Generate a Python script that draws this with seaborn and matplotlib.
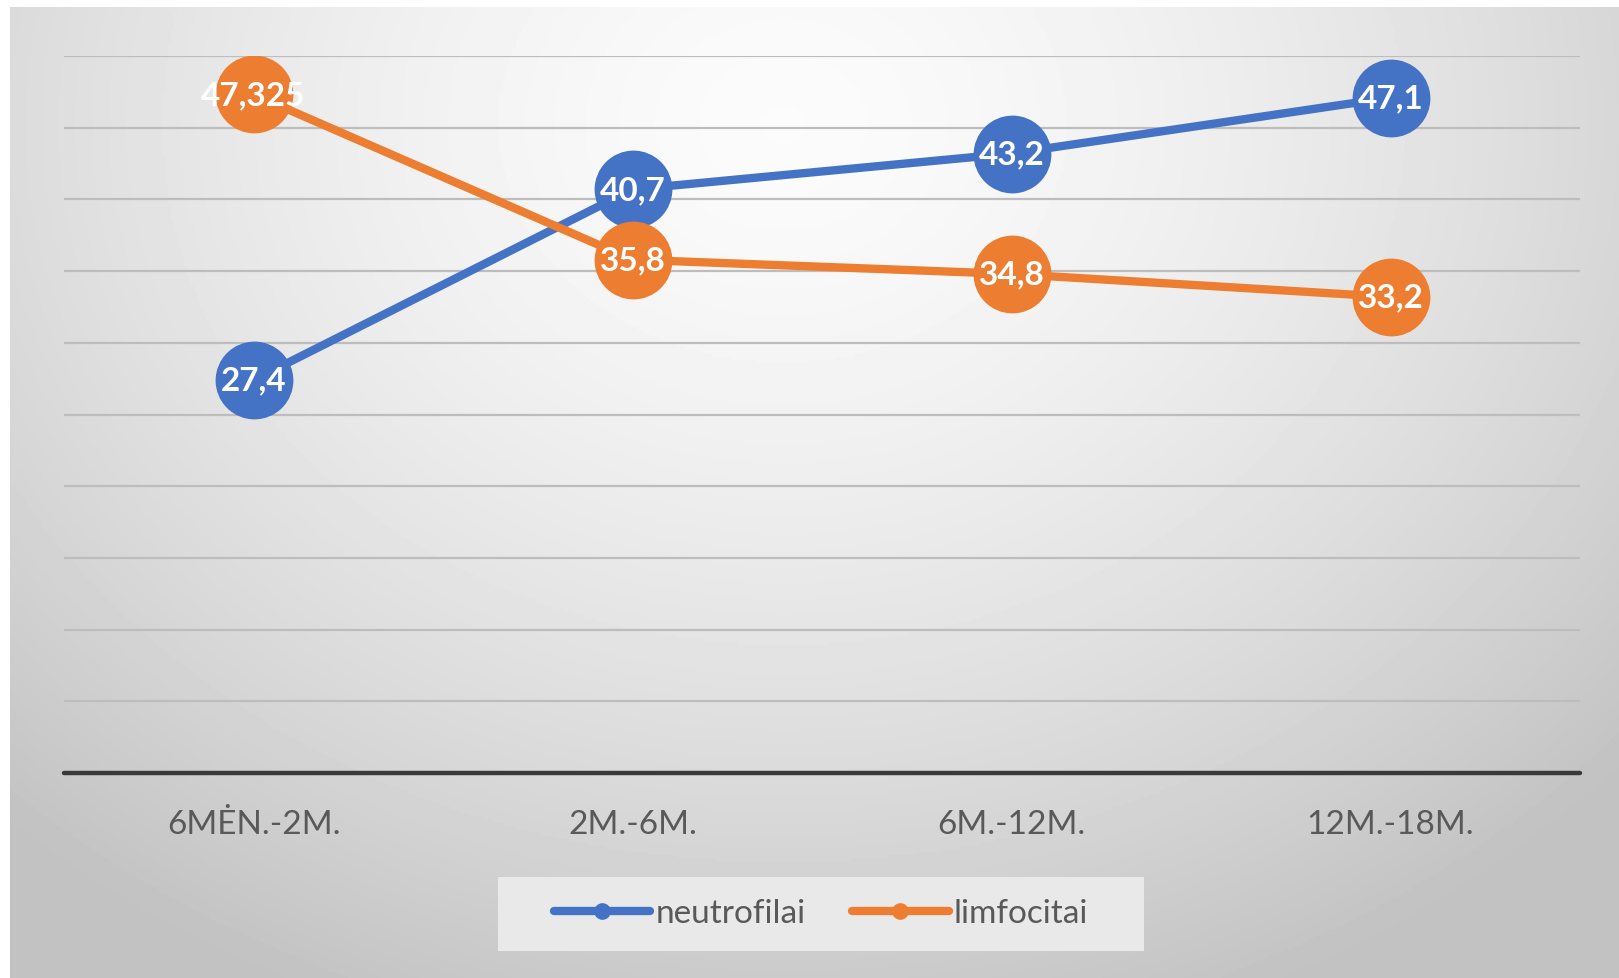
import numpy as np
import pandas as pd
import seaborn as sns
import matplotlib.pyplot as plt
from matplotlib.lines import Line2D
from matplotlib.patches import Rectangle

# Chart values
groups = ["6MĖN.-2M.", "2M.-6M.", "6M.-12M.", "12M.-18M."]
neutrofilai = [27.4, 40.7, 43.2, 47.1]
limfocitai = [47.325, 35.8, 34.8, 33.2]
series_names = ["neutrofilai", "limfocitai"]
colors = {"neutrofilai": "#4472C4", "limfocitai": "#ED7D31"}

df = pd.DataFrame({
    "group": groups * 2,
    "value": neutrofilai + limfocitai,
    "series": ["neutrofilai"] * 4 + ["limfocitai"] * 4,
})

sns.set_theme(style="white")
plt.rcParams["font.family"] = ["Lato", "DejaVu Sans"]

W, H = 1619, 979
fig = plt.figure(figsize=(W / 100, H / 100), dpi=100, facecolor="white")

# radial gray background like the office chart style
bg = fig.add_axes([10 / W, 0, 1 - 10 / W, 1 - 8 / H], zorder=0)
yy, xx = np.mgrid[0:1:300j, 0:1:500j]
r = np.sqrt(((xx - 0.48) / 0.72) ** 2 + ((yy - 0.12) / 1.0) ** 2)
shade = np.clip(0.985 - 0.23 * r ** 1.5, 0.76, 1.0)
bg.imshow(shade, cmap="gray", vmin=0, vmax=1, aspect="auto", extent=[0, 1, 1, 0])
bg.axis("off")

ax = fig.add_axes([64 / W, 1 - 774 / H, (1580 - 64) / W, (774 - 57) / H], zorder=1)
ax.patch.set_alpha(0)

for y in range(5, 51, 5):
    ax.axhline(y, color="#bdbdbd", linewidth=1.6, zorder=0)
ax.axhline(0, color="#3a3a3a", linewidth=3.2, zorder=1, clip_on=False)

sns.lineplot(data=df, x="group", y="value", hue="series", palette=colors,
             marker="o", markersize=56, markeredgewidth=0, linewidth=6,
             sort=False, legend=False, ax=ax, zorder=3)

for name, vals in zip(series_names, [neutrofilai, limfocitai]):
    for i, v in enumerate(vals):
        ax.text(i, v, f"{v:g}".replace(".", ","), ha="center", va="center",
                color="white", fontsize=24, fontweight="bold", zorder=5)

ax.set_xlim(-0.5, 3.5)
ax.set_ylim(0, 50)
ax.set_yticks([])
ax.set_xlabel("")
ax.set_ylabel("")
ax.tick_params(axis="x", length=0, pad=26, labelsize=24, labelcolor="#595959")
for s in ax.spines.values():
    s.set_visible(False)

# legend box
fig.patches.append(Rectangle((498 / W, 1 - 952 / H), 646 / W, 74 / H,
                             transform=fig.transFigure, facecolor="#e9e9e9",
                             edgecolor="none", zorder=2))
handles = [Line2D([0], [0], color=colors[n], linewidth=6, marker="o",
                  markersize=12, markeredgewidth=0) for n in series_names]
leg = fig.legend(handles, series_names, loc="center", bbox_to_anchor=(0.507, 0.066),
                 ncol=2, frameon=False, fontsize=24, handlelength=2.9,
                 columnspacing=1.4, handletextpad=0.15)
leg.set_zorder(3)
for t in leg.get_texts():
    t.set_color("#595959")

fig.savefig("out.png", dpi=100, facecolor="white")
